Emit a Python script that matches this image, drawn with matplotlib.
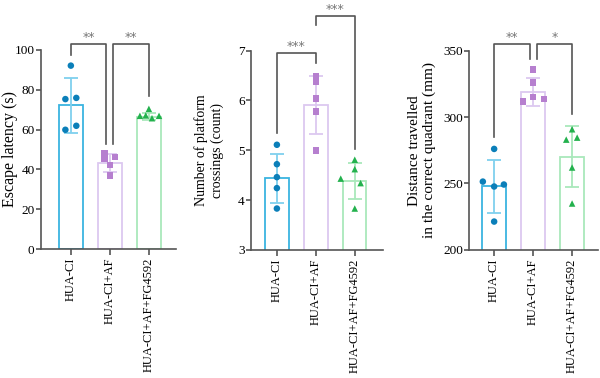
import numpy as np
import matplotlib
matplotlib.use("Agg")
import matplotlib.pyplot as plt

plt.rcParams['font.family'] = ['Liberation Serif', 'DejaVu Serif']

groups = ["HUA-CI", "HUA-CI+AF", "HUA-CI+AF+FG4592"]

# panel 1: escape latency
lat_ctrl = [92.1, 75.3, 75.9, 59.9, 61.9]
lat_af = [48.2, 45.2, 46.2, 42.3, 37.0]
lat_fg = [70.4, 66.9, 67.1, 65.7, 66.9]
lat_mean = [72.2, 43.1, 66.5]
lat_sd = [13.8, 4.4, 1.7]

# panel 2: platform crossings
cross_ctrl = [5.11, 4.72, 4.46, 4.24, 3.83]
cross_af = [6.48, 6.38, 6.04, 5.78, 5.00]
cross_fg = [4.81, 4.62, 4.43, 4.34, 3.83]
cross_mean = [4.44, 5.91, 4.39]
cross_sd = [0.49, 0.59, 0.36]

# panel 3: distance in correct quadrant
dist_ctrl = [276.0, 251.4, 247.7, 249.2, 221.3]
dist_af = [335.7, 325.9, 315.1, 311.6, 313.6]
dist_fg = [290.8, 284.5, 283.0, 262.0, 234.9]
dist_mean = [247.9, 319.1, 270.2]
dist_sd = [19.9, 10.4, 23.2]

# horizontal jitter of the dots
jit1 = [[0, -0.14, 0.14, -0.14, 0.14], [-0.14, -0.14, 0.13, 0, 0], [0, -0.23, -0.08, 0.08, 0.26]]
jit2 = [[0, 0, 0, 0, 0], [0, 0, 0, 0, 0], [0, 0, -0.36, 0.15, 0]]
jit3 = [[0, -0.29, 0, 0.25, 0], [0, 0, 0, -0.26, 0.28], [0, 0.13, -0.15, 0, 0]]

edge_cols = ["#3ab4e0", "#dcc8f0", "#a9e8bb"]
err_cols = ["#7fd0ee", "#dcc8f0", "#a9e8bb"]
dot_cols = ["#0b7fb9", "#b67fcf", "#23b14d"]
markers = ["o", "s", "^"]
line_col = "#555555"


def draw_panel(ax, pts, means, sds, jit, ylim, yticks, ylabel, xlim, lab_size, lab_x):
    x = np.arange(3)
    ax.bar(x, means, width=0.6, color="white", edgecolor=edge_cols, linewidth=1.3, zorder=1)
    for i in range(3):
        ax.errorbar(x[i], means[i], yerr=sds[i], color=err_cols[i], capsize=5,
                    elinewidth=1.3, capthick=1.3, zorder=2)
        ax.scatter(x[i] + np.array(jit[i]), pts[i], marker=markers[i], s=22,
                   color=dot_cols[i], edgecolor="none", zorder=3, clip_on=False)
    ax.set_ylim(ylim)
    ax.set_xlim(xlim)
    ax.set_yticks(yticks)
    ax.set_xticks(x)
    ax.set_xticklabels(groups, rotation=90, fontsize=9)
    ax.tick_params(axis="y", labelsize=9.5, color=line_col, width=1.2, length=3.5, pad=1)
    ax.tick_params(axis="x", color=line_col, width=1.2, length=4, pad=2)
    for s in ["top", "right"]:
        ax.spines[s].set_visible(False)
    for s in ["left", "bottom"]:
        ax.spines[s].set_color(line_col)
        ax.spines[s].set_linewidth(1.2)
    ax.set_ylabel(ylabel, fontsize=lab_size)
    ax.yaxis.set_label_coords(lab_x, 0.5)


def bracket(ax, x1, x2, top, y1, y2, text):
    ax.plot([x1, x1, x2, x2], [y1, top, top, y2], color=line_col, lw=1.2, clip_on=False)
    ax.text((x1 + x2) / 2, top, text, ha="center", va="bottom", fontsize=9,
            color="#777777", family="DejaVu Sans")


fig = plt.figure(figsize=(6, 3.78), dpi=100)
ax1 = fig.add_axes([0.068, 0.341, 0.225, 0.527])
ax2 = fig.add_axes([0.418, 0.339, 0.220, 0.527])
ax3 = fig.add_axes([0.782, 0.339, 0.215, 0.527])

draw_panel(ax1, [lat_ctrl, lat_af, lat_fg], lat_mean, lat_sd, jit1,
           (0, 100), [0, 20, 40, 60, 80, 100], "Escape latency (s)", (-0.77, 2.69), 11.5, -0.17)
bracket(ax1, 0, 0.91, 103, 97.5, 53, "**")
bracket(ax1, 1.09, 2, 103, 53, 77, "**")

draw_panel(ax2, [cross_ctrl, cross_af, cross_fg], cross_mean, cross_sd, jit2,
           (3, 7), [3, 4, 5, 6, 7], "Number of platform\ncrossings (count)", (-0.67, 2.72), 10, -0.205)
bracket(ax2, 0, 1, 6.95, 5.34, 6.75, "***")
bracket(ax2, 1, 2, 7.70, 7.52, 5.03, "***")

draw_panel(ax3, [dist_ctrl, dist_af, dist_fg], dist_mean, dist_sd, jit3,
           (200, 350), [200, 250, 300, 350], "Distance travelled\nin the correct quadrant (mm)", (-0.64, 2.67), 11, -0.256)
bracket(ax3, 0, 0.91, 355, 284.8, 343.5, "**")
bracket(ax3, 1.09, 2, 355, 343.5, 302, "*")

fig.savefig("out.png", dpi=100)
